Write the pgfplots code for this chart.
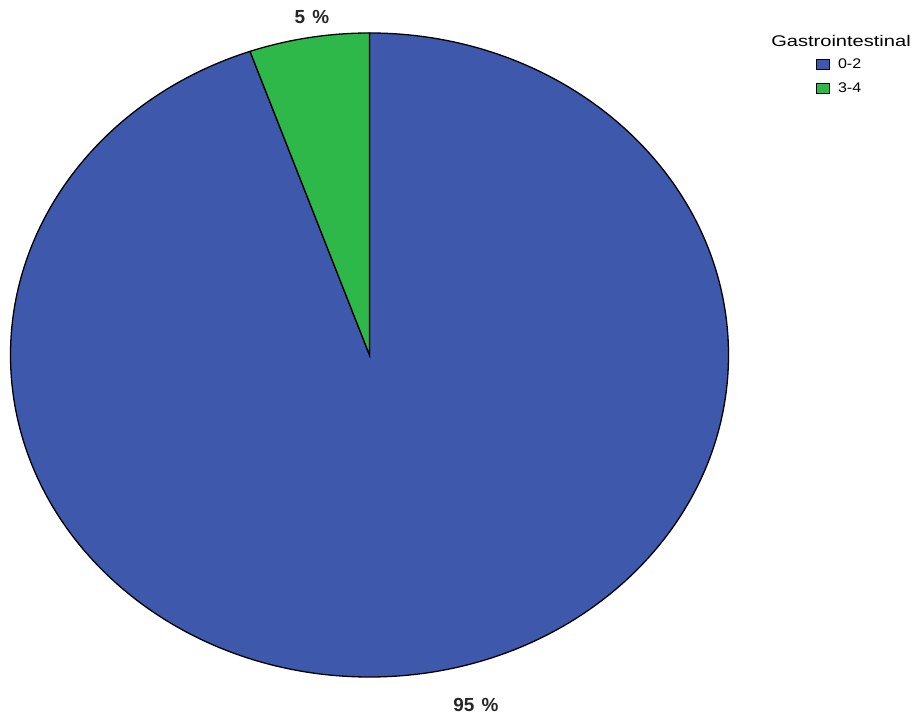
\documentclass[border=0pt]{standalone}
\usepackage{pgfplots}
\pgfplotsset{compat=1.18}
\usepackage{pgfplotstable}
\usepackage{graphicx}
\usepackage{fontspec}
\setmainfont{Liberation Sans}
\definecolor{pieblue}{RGB}{62,88,171}
\definecolor{piegreen}{RGB}{46,184,74}
\pgfplotstableread{
label value
0-2 94.6
3-4 5.4
}\piedata
\begin{document}
\begin{tikzpicture}
\pgfplotstablegetelem{0}{value}\of\piedata\pgfmathsetmacro\va{\pgfplotsretval}
\pgfplotstablegetelem{1}{value}\of\piedata\pgfmathsetmacro\vb{\pgfplotsretval}
\pgfmathsetmacro\tot{\va+\vb}
\pgfmathsetmacro\aend{90+360*\vb/\tot}
\pgfmathsetmacro\bend{\aend-360}
\pgfmathtruncatemacro\pa{round(100*\va/\tot)}
\pgfmathtruncatemacro\pb{round(100*\vb/\tot)}
\begin{axis}[
  scale only axis, width=919bp, height=721bp,
  xmin=0, xmax=919, ymin=0, ymax=721,
  hide axis, clip=false,
  legend style={at={(axis cs:816,663)}, anchor=north west, draw=none, fill=none,
    inner sep=0pt, row sep=10bp, font=\fontsize{14}{16}\selectfont,
    nodes={inner ysep=1pt, inner xsep=2pt}},
  legend cell align=left,
]
\path (axis cs:0,0) rectangle (axis cs:919,721);
\filldraw[fill=pieblue, draw=black, line width=1.3bp] (axis cs:369.5,366) -- (axis cs:369.5,688)
  arc[start angle=90, end angle=\bend, x radius=359, y radius=322] -- cycle;
\filldraw[fill=piegreen, draw=black, line width=1.3bp] (axis cs:369.5,366) -- (axis cs:369.5,688)
  arc[start angle=90, end angle=\aend, x radius=359, y radius=322] -- cycle;
\node[font=\fontsize{19}{22}\selectfont\bfseries, text=black!85] at (axis cs:312,704) {\pb\hspace{2bp}~\%};
\node[font=\fontsize{19}{22}\selectfont\bfseries, text=black!85] at (axis cs:476,16) {\pa\hspace{2bp}~\%};
\node[font=\fontsize{15.5}{18}\selectfont, xscale=1.3] at (axis cs:841,680) {Gastrointestinal};
\addlegendimage{legend image code/.code={\draw[fill=pieblue, draw=black, line width=0.8bp] (2bp,-5bp) rectangle (15bp,5bp);}}
\addlegendentry{\hspace{6bp}\scalebox{1.15}[1]{0-2}}
\addlegendimage{legend image code/.code={\draw[fill=piegreen, draw=black, line width=0.8bp] (2bp,-5bp) rectangle (15bp,5bp);}}
\addlegendentry{\hspace{6bp}\scalebox{1.15}[1]{3-4}}
\end{axis}
\end{tikzpicture}
\end{document}
